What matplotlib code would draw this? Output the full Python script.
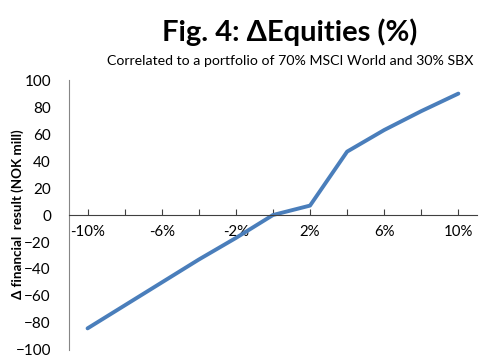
import matplotlib
matplotlib.use("Agg")
import matplotlib.pyplot as plt

plt.rcParams["font.family"] = ["Lato", "DejaVu Sans"]

# equity shock (%) and resulting change in financial result (NOK mill)
equity_shock = [-10, -8, -6, -4, -2, 0, 2, 4, 6, 8, 10]
delta_result = [-84, -67, -50, -33, -17, 0, 7, 47, 63, 77, 90]
y_ticks = [-100, -80, -60, -40, -20, 0, 20, 40, 60, 80, 100]

title = "Fig. 4: \u0394Equities (%)"
subtitle = "Correlated to a portfolio of 70% MSCI World and 30% SBX"
y_label = "\u0394 financial  result (NOK mill)"

fig = plt.figure(figsize=(5.02, 3.56), dpi=100)
ax = fig.add_axes([0.1375, 0.017, 0.8125, 0.758])

ax.plot(equity_shock, delta_result, color="#4A7EBB", lw=2.8,
        solid_capstyle="round", solid_joinstyle="round")

ax.set_xlim(-11, 11)
ax.set_ylim(-100, 100)

# category-style x axis sitting on y=0, label every other tick
ax.spines["bottom"].set_position(("data", 0))
ax.spines["bottom"].set_color("#404040")
ax.spines["left"].set_color("#868686")
ax.spines["top"].set_visible(False)
ax.spines["right"].set_visible(False)

ax.set_xticks(equity_shock)
ax.set_xticklabels([f"{v}%" if i % 2 == 0 else "" for i, v in enumerate(equity_shock)])
ax.tick_params(axis="x", direction="in", length=4, width=0.8, color="#404040",
               pad=7, labelsize=10.8)
ax.set_yticks(y_ticks)
ax.tick_params(axis="y", length=0, pad=13, labelsize=11)

# axis title placed by hand next to the tick labels
fig.text(18 / 502, 1 - 214 / 356, y_label, rotation=90, ha="center", va="center",
         fontsize=9.6, fontweight="bold")

fig.text(0.578, 0.885, title, ha="center", va="baseline", fontsize=21, fontweight="bold")
fig.text(0.578, 0.818, subtitle, ha="center", va="baseline", fontsize=10.2)

fig.savefig("out.png", dpi=100)
